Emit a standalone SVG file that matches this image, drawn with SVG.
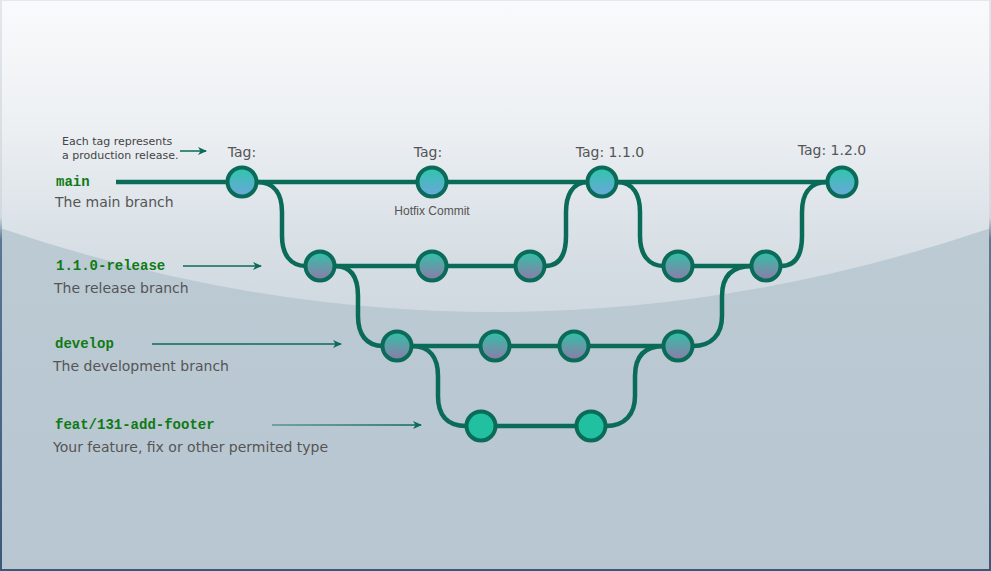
<svg xmlns="http://www.w3.org/2000/svg" width="991" height="571" viewBox="0 0 991 571">
<defs>
<linearGradient id="bgTop" x1="0" y1="0" x2="0" y2="1">
<stop offset="0" stop-color="#f9fafb"/>
<stop offset="0.2" stop-color="#eef1f4"/>
<stop offset="0.45" stop-color="#d6dee4"/>
<stop offset="0.6" stop-color="#ccd6de"/>
<stop offset="1" stop-color="#c4cfd8"/>
</linearGradient>
<linearGradient id="bgBot" x1="0" y1="0" x2="0" y2="1">
<stop offset="0" stop-color="#bccad4"/>
<stop offset="1" stop-color="#b8c6d1"/>
</linearGradient>
<linearGradient id="side" gradientUnits="userSpaceOnUse" x1="0" y1="0" x2="0" y2="571">
<stop offset="0" stop-color="#e2e7eb"/>
<stop offset="0.38" stop-color="#d0d9e0"/>
<stop offset="0.42" stop-color="#5a7894"/>
<stop offset="1" stop-color="#3b5977"/>
</linearGradient>
<linearGradient id="gMain" x1="0" y1="0" x2="0" y2="1">
<stop offset="0" stop-color="#2ec6aa"/>
<stop offset="1" stop-color="#6ca6dc"/>
</linearGradient>
<linearGradient id="gDev" x1="0" y1="0" x2="0" y2="1">
<stop offset="0" stop-color="#2fc2a8"/>
<stop offset="1" stop-color="#9079a8"/>
</linearGradient>
<linearGradient id="gArrow" gradientUnits="userSpaceOnUse" x1="272" y1="0" x2="421" y2="0">
<stop offset="0" stop-color="#0a6b58" stop-opacity="0.55"/>
<stop offset="1" stop-color="#0a6b58"/>
</linearGradient>
<marker id="ah" markerWidth="10" markerHeight="8" refX="8" refY="4" orient="auto" markerUnits="userSpaceOnUse">
<path d="M0,0 L9,4 L0,8 L2.5,4 Z" fill="#0a6b58"/>
</marker>
</defs>
<style>
.conn{fill:none;stroke:#0a6b58;stroke-width:4.5}
.arr{fill:none;stroke:#0a6b58;stroke-width:1.5;marker-end:url(#ah)}
.node{stroke:#0a6b58;stroke-width:4}
.m{fill:url(#gMain)}
.d{fill:url(#gDev)}
.f{fill:#21c0a0}
.br{font-family:"Liberation Mono",monospace;font-weight:bold;font-size:14px;fill:#0f7a14}
.desc{font-family:"DejaVu Sans",Verdana,sans-serif;font-size:14px;fill:#555}
.tag{font-family:"DejaVu Sans",Verdana,sans-serif;font-size:14px;fill:#555;text-anchor:middle}
.note{font-family:"DejaVu Sans",Verdana,sans-serif;font-size:11px;fill:#444}
.hot{font-family:"Liberation Sans",Arial,sans-serif;font-size:12px;fill:#555;text-anchor:middle}
</style>
<rect x="0" y="0" width="991" height="571" fill="url(#bgTop)"/>
<path d="M0,228 Q495.5,396 991,228 L991,571 L0,571 Z" fill="url(#bgBot)"/>
<path d="M1,0 V571" stroke="url(#side)" stroke-width="2" fill="none"/>
<path d="M990,0 V571" stroke="url(#side)" stroke-width="2" fill="none"/>
<path d="M0,0.5 H991" stroke="#e3e8ec" stroke-width="1" fill="none"/>
<path d="M0,570 H991" stroke="#3b5977" stroke-width="2" fill="none"/>

<g id="connectors">
<path class="conn" d="M116,182 H842"/>
<path class="conn" d="M257,182 C276,182 282,196 282,212 V236 C282,254 290,266 306,266"/>
<path class="conn" d="M320,266 H530"/>
<path class="conn" d="M545,266 C560,266 566,254 566,236 V212 C566,196 572,182 588,182"/>
<path class="conn" d="M617,182 C634,182 640,196 640,212 V236 C640,254 648,266 664,266"/>
<path class="conn" d="M678,266 H766"/>
<path class="conn" d="M781,266 C796,266 802,254 802,236 V212 C802,196 808,182 827,182"/>
<path class="conn" d="M335,266 C352,266 358,278 358,296 V316 C358,334 366,346 383,346"/>
<path class="conn" d="M397,346 H678"/>
<path class="conn" d="M693,346 C712,346 722,334 722,316 V296 C722,278 730,266 752,266"/>
<path class="conn" d="M412,346 C430,346 438,358 438,376 V396 C438,414 446,426 466,426"/>
<path class="conn" d="M481,426 H591"/>
<path class="conn" d="M606,426 C625,426 635,414 635,396 V376 C635,358 643,346 664,346"/>
<path class="arr" d="M180,151 H206"/>
<path class="arr" d="M183,266 H261"/>
<path class="arr" d="M152,344 H341"/>
<path class="arr" d="M272,425 H421" style="stroke:url(#gArrow)"/>
</g>

<g id="labels">
<text class="note" x="62" y="145">Each tag represents</text>
<text class="note" x="62" y="159">a production release.</text>
<text class="br" x="56" y="186">main</text>
<text class="desc" x="55" y="207">The main branch</text>
<text class="br" x="56" y="270">1.1.0-release</text>
<text class="desc" x="54" y="293">The release branch</text>
<text class="br" x="55" y="348">develop</text>
<text class="desc" x="53" y="371">The development branch</text>
<text class="br" x="55" y="429">feat/131-add-footer</text>
<text class="desc" x="53" y="452">Your feature, fix or other permited type</text>
</g>

<g id="main-1"><circle class="node m" cx="242" cy="182" r="14.5"/><text class="tag" x="242" y="157">Tag:</text></g>
<g id="main-2"><circle class="node m" cx="432" cy="182" r="14.5"/><text class="tag" x="428" y="157">Tag:</text><text class="hot" x="432" y="215">Hotfix Commit</text></g>
<g id="main-3"><circle class="node m" cx="602" cy="182" r="14.5"/><text class="tag" x="610" y="157">Tag: 1.1.0</text></g>
<g id="main-4"><circle class="node m" cx="842" cy="182" r="14.5"/><text class="tag" x="832" y="155">Tag: 1.2.0</text></g>

<g id="release-1"><circle class="node d" cx="320" cy="266" r="14.5"/></g>
<g id="release-2"><circle class="node d" cx="432" cy="266" r="14.5"/></g>
<g id="release-3"><circle class="node d" cx="530" cy="266" r="14.5"/></g>
<g id="release-4"><circle class="node d" cx="678" cy="266" r="14.5"/></g>
<g id="release-5"><circle class="node d" cx="766" cy="266" r="14.5"/></g>

<g id="develop-1"><circle class="node d" cx="397" cy="346" r="14.5"/></g>
<g id="develop-2"><circle class="node d" cx="495" cy="346" r="14.5"/></g>
<g id="develop-3"><circle class="node d" cx="574" cy="346" r="14.5"/></g>
<g id="develop-4"><circle class="node d" cx="678" cy="346" r="14.5"/></g>

<g id="feature-1"><circle class="node f" cx="481" cy="426" r="14.5"/></g>
<g id="feature-2"><circle class="node f" cx="591" cy="426" r="14.5"/></g>
</svg>
